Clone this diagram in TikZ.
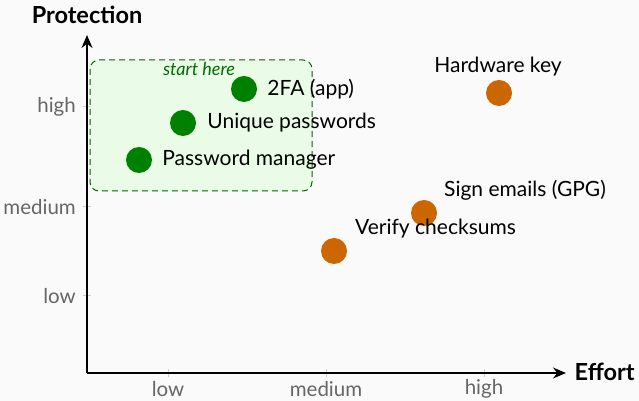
\documentclass[tikz,border=0pt]{standalone}
\usepackage{fontspec}
\setmainfont{Lato}
\usepackage{xcolor}
\usepackage{tikz}
\usetikzlibrary{arrows.meta, positioning}
\definecolor{paper}{HTML}{FAFAFA}
\definecolor{easygreen}{HTML}{008000}
\definecolor{hardorange}{HTML}{CC6600}
\definecolor{boxfill}{HTML}{EAFBE8}
\definecolor{ticklabel}{HTML}{666666}

\begin{document}
\begin{tikzpicture}[x=1pt,y=1pt,
                    axis/.style={line width=1.8pt,-{Stealth[length=13pt,width=11pt]}},
                    tick/.style={draw=gray!40,line width=1pt},
                    ticklab/.style={text=ticklabel,font=\fontsize{20.5}{24}\selectfont,inner sep=2pt},
                    dot/.style={circle,minimum size=26pt,inner sep=0pt},
                    easy/.style={dot,fill=easygreen},
                    hard/.style={dot,fill=hardorange},
                    lab/.style={font=\fontsize{21}{25}\selectfont,inner sep=0pt}]

%BACKGROUND and bounding box
 \fill[paper] (0,0) rectangle (639,401);

%DRAWING Axes
 \coordinate (Origin) at (87,28);
 \coordinate (XEnd) at (566,28);
 \coordinate (YEnd) at (87,366);

 \foreach \x/\lab in {168/low,326/medium,484/high}
 {\draw[tick] (\x,24)--(\x,32);
  \node[ticklab] (XLabel\lab) at (\x,12) {\lab};}

 \foreach \y/\lab in {294/high,194/medium,105/low}
 {\draw[tick] (83,\y)--(91,\y);
  \node[ticklab,anchor=east] (YLabel\lab) at (78,\y) {\lab};}

 \draw[axis] (Origin)--(XEnd);
 \draw[axis] (Origin)--(YEnd);

 \node[font=\fontsize{23.5}{28}\selectfont\bfseries,anchor=east] (EffortLabel) at (638,29) {Effort};
 \node[font=\fontsize{23.5}{28}\selectfont\bfseries] (ProtectionLabel) at (87,386) {Protection};

%Quick wins region
 \draw[easygreen!80!black,fill=boxfill,dashed,dash pattern=on 6pt off 4pt,line width=1pt,rounded corners=9pt]
   (90,341) rectangle (312,210);
 \node[text=easygreen!85!black,font=\fontsize{18}{21}\selectfont\itshape] (StartHere) at (199,332) {start here};

%Inserting measures
 \node[easy] (TwoFA) at (244,312) {};
 \node[lab,right=10pt of TwoFA] (TwoFALabel) {2FA (app)};

 \node[easy] (Unique) at (183,278) {};
 \node[lab,right=11pt of Unique] (UniqueLabel) {Unique passwords};

 \node[easy] (PwManager) at (139,241) {};
 \node[lab,right=10pt of PwManager] (PwManagerLabel) {Password manager};

 \node[hard] (HwKey) at (499,308) {};
 \node[lab] (HwKeyLabel) at (498,334) {Hardware key};

 \node[hard] (SignMail) at (424,188) {};
 \node[lab,anchor=west] (SignMailLabel) at (444,211) {Sign emails (GPG)};

 \node[hard] (Checksums) at (334,150) {};
 \node[lab,anchor=west] (ChecksumsLabel) at (355,172) {Verify checksums};

\end{tikzpicture}
\end{document}
